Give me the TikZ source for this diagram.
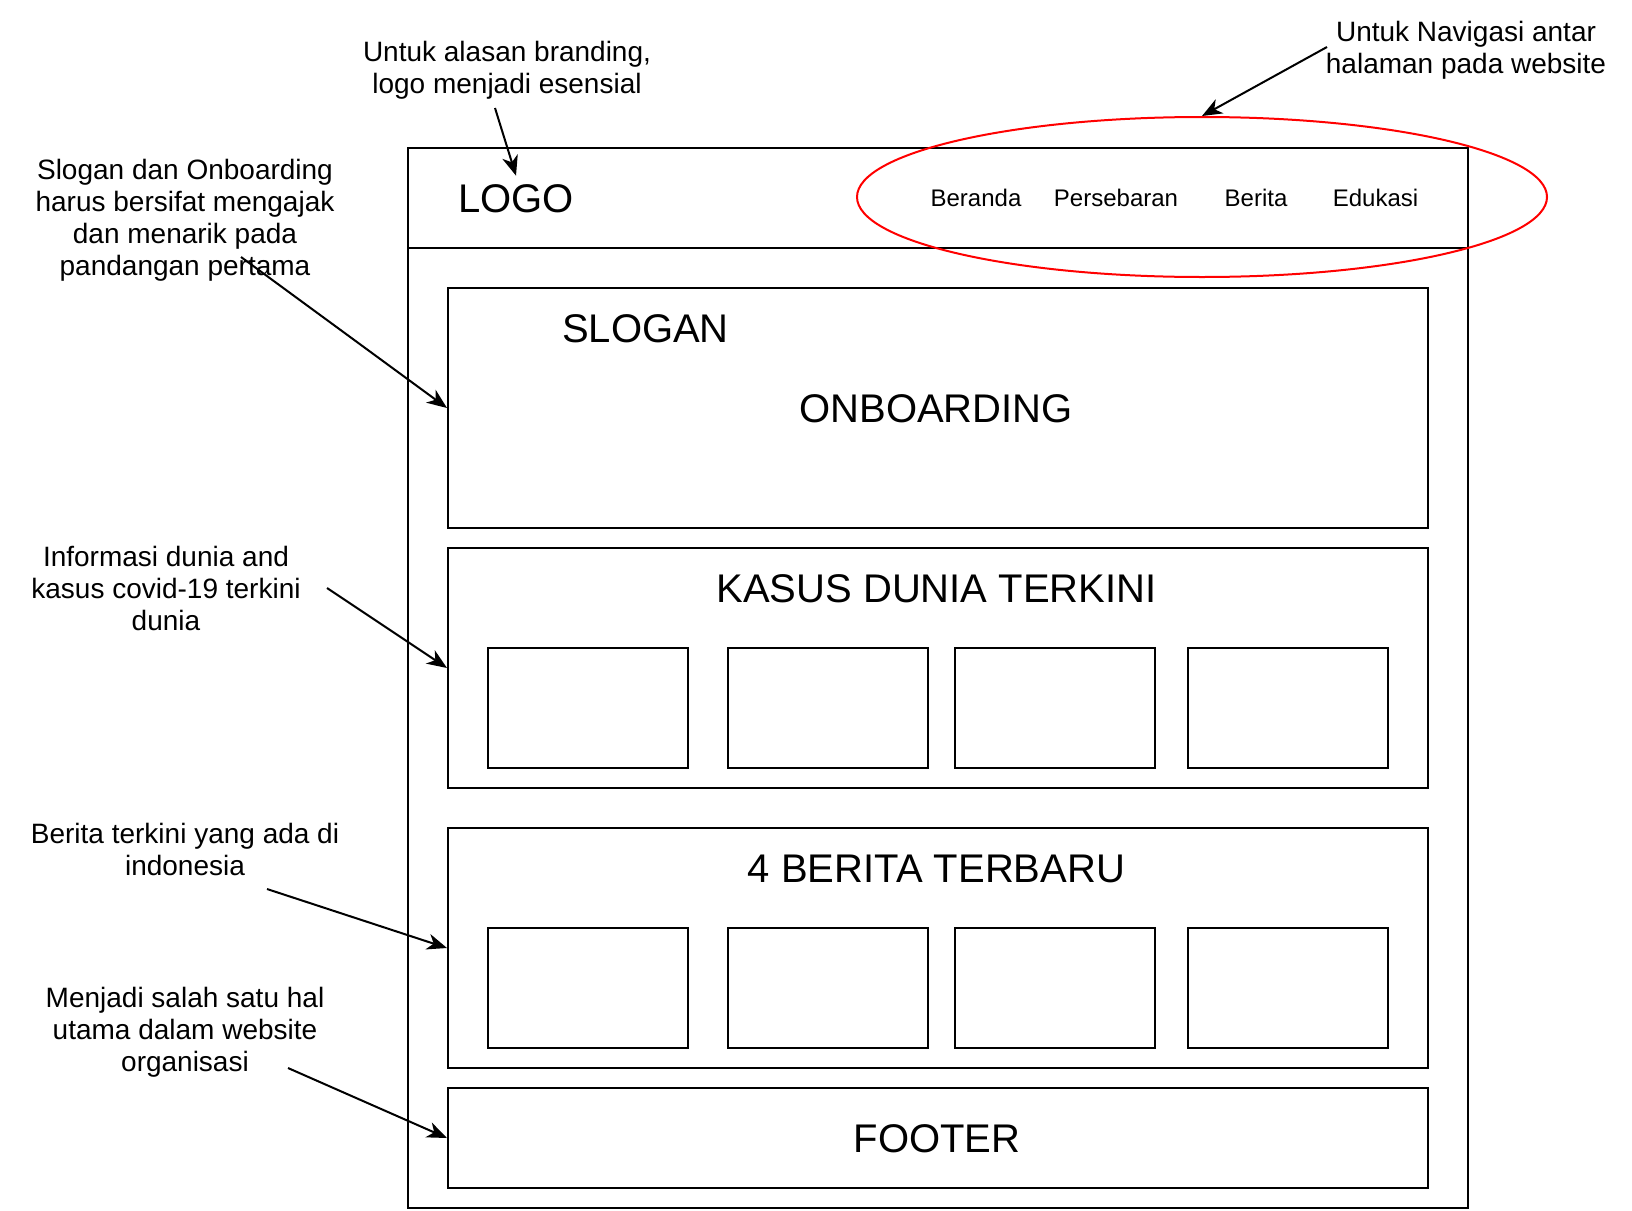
\documentclass[tikz,border=0pt]{standalone}
\usepackage{fontspec}
\setmainfont{Liberation Sans}
\usetikzlibrary{shapes,arrows.meta}

\tikzset{
  box/.style={draw, line width=1pt, inner sep=0pt, anchor=north west},
  note/.style={align=center, anchor=base, inner sep=0pt, font=\fontsize{14pt}{16pt}\selectfont},
  title/.style={anchor=base, inner sep=0pt, font=\fontsize{20pt}{24pt}\selectfont},
  menu/.style={anchor=base, inner sep=0pt, font=\fontsize{12pt}{14pt}\selectfont},
  pointer/.style={line width=1pt, -{Stealth[length=10pt, width=8pt, inset=3pt]}}
}

\begin{document}
\begin{tikzpicture}[x=0.5pt, y=-0.5pt]

  \useasboundingbox (0,0) rectangle (1632,1210);

  %% page frame and header bar
  \node[box, minimum width=530pt, minimum height=530pt] (page) at (407,147) {};
  \node[box, minimum width=530pt, minimum height=50pt] (header) at (407,147) {};
  \node[title] (logo) at (516,212) {LOGO};

  \node[menu] (beranda) at (976,206) {Beranda};
  \node[menu] (sebaran) at (1116,206) {Persebaran};
  \node[menu] (beritamenu) at (1256,206) {Berita};
  \node[menu] (edukasi) at (1375.5,206) {Edukasi};
  \node[ellipse, draw=red, line width=1pt, inner sep=0pt,
        minimum width=345pt, minimum height=80pt] (navring) at (1202,197) {};

  %% content blocks
  \node[box, minimum width=490pt, minimum height=120pt] (slogan) at (447,287) {};
  \node[title] (slogantxt) at (645.5,342) {SLOGAN};
  \node[title] (onboard) at (936,422) {ONBOARDING};

  \node[box, minimum width=490pt, minimum height=120pt] (kasus) at (447,547) {};
  \node[title] (kasustxt) at (936.5,602) {KASUS DUNIA TERKINI};

  \node[box, minimum width=490pt, minimum height=120pt] (berita) at (447,827) {};
  \node[title] (beritatxt) at (936.5,882) {4 BERITA TERBARU};

  \foreach \i/\x in {1/487, 2/727, 3/953.5, 4/1187} {
    \node[box, minimum width=100pt, minimum height=60pt] (k\i) at (\x,647) {};
    \node[box, minimum width=100pt, minimum height=60pt] (b\i) at (\x,927) {};
  }

  \node[box, minimum width=490pt, minimum height=50pt] (footer) at (447,1087) {};
  \node[title] (footertxt) at (937,1152) {FOOTER};

  %% notes (placed at the baseline of their last line)
  \node[note] (brandnote) at (507,93) {Untuk alasan branding,\\logo menjadi esensial};
  \node[note] (navnote) at (1466,73) {Untuk Navigasi antar\\halaman pada website};
  \node[note] (slogannote) at (185,275) {Slogan dan Onboarding\\harus bersifat mengajak\\dan menarik pada\\pandangan pertama};
  \node[note] (infonote) at (166,630) {Informasi dunia and\\kasus covid-19 terkini\\dunia};
  \node[note] (beritanote) at (185,875) {Berita terkini yang ada di\\indonesia};
  \node[note] (footernote) at (185,1071) {Menjadi salah satu hal\\utama dalam website\\organisasi};

  \coordinate (brandtail) at (495,108);
  \coordinate (navtail) at (1327,47);
  \coordinate (slogantail) at (241,257);
  \coordinate (infotail) at (327,588);
  \coordinate (beritatail) at (267,889);
  \coordinate (footertail) at (288,1068);

  \draw[pointer] (brandtail) -- ([yshift=4pt]logo.north); %% note -> logo
  \draw[pointer] (navtail) -- (navring.north); %% note -> menu
  \draw[pointer] (slogantail) -- (slogan.west);
  \draw[pointer] (infotail) -- (kasus.west);
  \draw[pointer] (beritatail) -- (berita.west);
  \draw[pointer] (footertail) -- (footer.west);
\end{tikzpicture}
\end{document}
